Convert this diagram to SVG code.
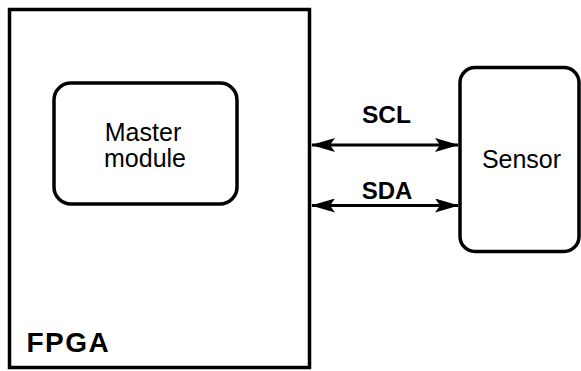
<svg xmlns="http://www.w3.org/2000/svg" width="581" height="371" viewBox="0 0 581 371">
<style>
.box{fill:#fff;stroke:#000;stroke-width:3.5}
.conn{stroke:#000;stroke-width:3;fill:none}
.t{font-family:"Liberation Sans",Arial,sans-serif;fill:#000}
.b{font-weight:bold}
</style>
<defs>
<marker id="ah" viewBox="0 0 24 14" refX="23" refY="7" markerWidth="24" markerHeight="14" markerUnits="userSpaceOnUse" orient="auto-start-reverse">
<path d="M0,0 L24,7 L0,14 L5,7 Z" fill="#000"/>
</marker>
</defs>
<rect width="581" height="371" fill="#fff"/>
<g id="fpga">
<rect class="box" x="9.5" y="9.5" width="300" height="358"/>
<text class="t b" x="26.5" y="351.7" font-size="28" letter-spacing="1.5">FPGA</text>
</g>
<g id="master">
<rect class="box" x="54" y="83" width="183" height="121" rx="17"/>
<text class="t" x="143" y="141" font-size="25" text-anchor="middle">Master</text>
<text class="t" x="145" y="167" font-size="25" text-anchor="middle">module</text>
</g>
<g id="sensor">
<rect class="box" x="460" y="67.5" width="119" height="184" rx="15"/>
<text class="t" x="521.5" y="168.3" font-size="25" text-anchor="middle">Sensor</text>
</g>
<g id="connectors">
<line class="conn" x1="312" y1="145" x2="458" y2="145" marker-start="url(#ah)" marker-end="url(#ah)"/>
<line class="conn" x1="312" y1="205.5" x2="458" y2="205.5" marker-start="url(#ah)" marker-end="url(#ah)"/>
<text class="t b" x="386.5" y="123.3" font-size="24.5" text-anchor="middle">SCL</text>
<text class="t b" x="387" y="199.3" font-size="24" text-anchor="middle">SDA</text>
</g>
</svg>
